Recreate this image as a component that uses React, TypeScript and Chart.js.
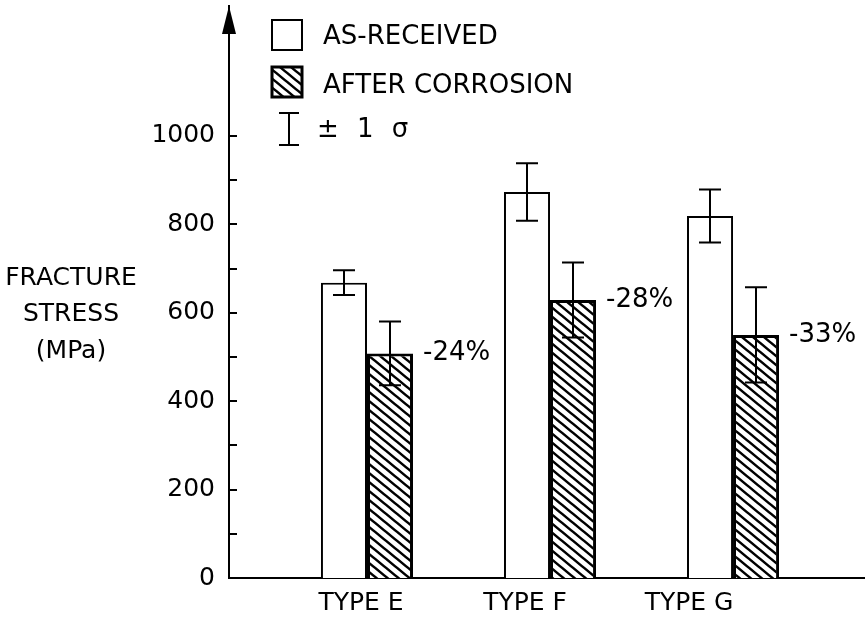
import React, { useEffect, useRef } from 'react';
import { Chart, registerables } from 'chart.js';

Chart.register(...registerables);

// ---- data ----
const categories = ['TYPE E', 'TYPE F', 'TYPE G'];
const seriesLabels = ['AS-RECEIVED', 'AFTER CORROSION'];
const asReceived = [668, 873, 819];
const afterCorrosion = [508, 629, 550];
const asReceivedSd = [28, 65, 60];
const afterCorrosionSd = [72, 85, 108];
const changeLabels = ['-24%', '-28%', '-33%'];
const yTickValues = [0, 100, 200, 300, 400, 500, 600, 700, 800, 900, 1000];
const yLabelledTicks = [0, 200, 400, 600, 800, 1000];
const sigmaLabel = '± 1 σ';
const yTitleLines = ['FRACTURE', 'STRESS', '(MPa)'];

const FAMILY = '"DejaVu Sans", sans-serif';
const FONT = `25px ${FAMILY}`;
const BIG_FONT = `26px ${FAMILY}`;

function makeHatch(): CanvasPattern | string {
  const c = document.createElement('canvas');
  const w = 11;
  const h = 9;
  c.width = w;
  c.height = h;
  const g = c.getContext('2d');
  if (!g) return '#888';
  g.fillStyle = '#fff';
  g.fillRect(0, 0, w, h);
  g.strokeStyle = '#000';
  g.lineWidth = 2.5;
  g.beginPath();
  for (const dx of [-w, 0, w]) {
    g.moveTo(dx - w * 0.5, -h * 0.5);
    g.lineTo(dx + w * 1.5, h * 1.5);
  }
  g.stroke();
  return g.createPattern(c, 'repeat') || '#888';
}

export default function App() {
  const ref = useRef<HTMLCanvasElement | null>(null);

  useEffect(() => {
    if (!ref.current) return;
    const hatch = makeHatch();
    const sds = [asReceivedSd, afterCorrosionSd];

    const overlay = {
      id: 'overlay',
      afterDraw(chart: any) {
        const ctx: any = chart.ctx;
        const area = chart.chartArea;
        const y = chart.scales.y;
        ctx.save();
        ctx.strokeStyle = '#000';
        ctx.fillStyle = '#000';

        // y axis arrow
        const ax = area.left;
        ctx.beginPath();
        ctx.moveTo(ax, area.top);
        ctx.lineTo(ax - 7, area.top + 28);
        ctx.lineTo(ax + 7, area.top + 28);
        ctx.closePath();
        ctx.fill();

        // inward tick marks
        ctx.lineWidth = 2;
        for (const v of yTickValues) {
          const py = Math.round(y.getPixelForValue(v));
          ctx.beginPath();
          ctx.moveTo(ax, py);
          ctx.lineTo(ax + 8, py);
          ctx.stroke();
        }

        // error bars
        chart.data.datasets.forEach((_: any, di: number) => {
          const meta = chart.getDatasetMeta(di);
          meta.data.forEach((bar: any, i: number) => {
            const val = (chart.data.datasets[di].data[i] as any).y;
            const sd = sds[di][i];
            const top = y.getPixelForValue(val + sd);
            const bot = y.getPixelForValue(val - sd);
            const bx = Math.round(bar.x);
            ctx.lineWidth = 2;
            ctx.beginPath();
            ctx.moveTo(bx, top);
            ctx.lineTo(bx, bot);
            ctx.moveTo(bx - 11, top);
            ctx.lineTo(bx + 11, top);
            ctx.moveTo(bx - 11, bot);
            ctx.lineTo(bx + 11, bot);
            ctx.stroke();
          });
        });

        // percentage change labels
        ctx.font = BIG_FONT;
        ctx.textAlign = 'left';
        ctx.textBaseline = 'middle';
        const meta1 = chart.getDatasetMeta(1);
        meta1.data.forEach((bar: any, i: number) => {
          ctx.fillText(changeLabels[i], bar.x + bar.width / 2 + 10, bar.y);
        });

        // y title
        ctx.font = FONT;
        ctx.textAlign = 'center';
        const titleY = [278, 314, 351];
        yTitleLines.forEach((t, i) => ctx.fillText(t, 71, titleY[i]));

        // legend
        const lx = 272;
        ctx.font = BIG_FONT;
        ctx.textAlign = 'left';
        ctx.lineWidth = 2;
        ctx.fillStyle = '#fff';
        ctx.fillRect(lx, 20, 30, 30);
        ctx.strokeRect(lx, 20, 30, 30);
        ctx.fillStyle = hatch;
        ctx.fillRect(lx, 67, 30, 30);
        ctx.lineWidth = 3;
        ctx.strokeRect(lx, 67, 30, 30);
        ctx.lineWidth = 2;
        const ex = 289;
        ctx.beginPath();
        ctx.moveTo(ex, 113);
        ctx.lineTo(ex, 145);
        ctx.moveTo(ex - 10, 113);
        ctx.lineTo(ex + 10, 113);
        ctx.moveTo(ex - 10, 145);
        ctx.lineTo(ex + 10, 145);
        ctx.stroke();
        ctx.fillStyle = '#000';
        ctx.fillText(chart.data.datasets[0].label, 323, 37);
        ctx.fillText(chart.data.datasets[1].label, 323, 86);
        ctx.wordSpacing = '10px';
        ctx.fillText(sigmaLabel, 317, 130);
        ctx.restore();
      },
    };

    const chart = new Chart(ref.current, {
      type: 'bar',
      data: {
        datasets: [
          {
            label: seriesLabels[0],
            data: asReceived.map((v, i) => ({ x: i + 1, y: v })),
            backgroundColor: '#fff',
            borderColor: '#000',
            borderWidth: 2,
            xAxisID: 'x',
          },
          {
            label: seriesLabels[1],
            data: afterCorrosion.map((v, i) => ({ x: i + 1, y: v })),
            backgroundColor: hatch as any,
            borderColor: '#000',
            borderWidth: 3,
            xAxisID: 'x',
          },
        ],
      },
      options: {
        animation: false,
        responsive: true,
        maintainAspectRatio: false,
        categoryPercentage: 0.503,
        barPercentage: 1,
        layout: { padding: { top: 6, left: 0, right: 0, bottom: 0 } },
        plugins: {
          legend: { display: false },
          tooltip: { enabled: false },
        },
        scales: {
          x: {
            type: 'linear',
            display: false,
            offset: false,
            grid: { offset: false },
            min: 0.246,
            max: 3.721,
            afterBuildTicks: (s: any) => {
              s.ticks = categories.map((_, i) => ({ value: i + 1 }));
            },
          },
          xLabel: {
            type: 'linear',
            position: 'bottom',
            offset: false,
            min: 0.195,
            max: 4.073,
            grid: { display: false, drawTicks: false, offset: false },
            border: { display: true, color: '#000', width: 2 },
            afterBuildTicks: (s: any) => {
              s.ticks = categories.map((_, i) => ({ value: i + 1 }));
            },
            afterFit: (s: any) => {
              s.height = 42;
              s.paddingLeft = 0;
              s.paddingRight = 0;
            },
            ticks: {
              autoSkip: false,
              maxRotation: 0,
              padding: 10,
              color: '#000',
              font: { family: FAMILY, size: 25 },
              callback: (_v: any, i: number) => categories[i],
            },
          },
          y: {
            type: 'linear',
            min: 0,
            max: 1294,
            grid: { display: false, drawTicks: false },
            border: { display: true, color: '#000', width: 2 },
            afterBuildTicks: (s: any) => {
              s.ticks = yTickValues.map((v) => ({ value: v }));
            },
            afterFit: (s: any) => {
              s.width = 229;
              s.paddingTop = 0;
              s.paddingBottom = 0;
            },
            ticks: {
              autoSkip: false,
              padding: 14,
              color: '#000',
              font: { family: FAMILY, size: 25 },
              callback: (v: any) => (yLabelledTicks.includes(v) ? String(v) : ''),
            },
          },
        },
      },
      plugins: [overlay],
    } as any);

    return () => chart.destroy();
  }, []);

  return (
    <div style={{ position: 'fixed', left: 0, top: 0, width: 865, height: 620, background: '#fff' }}>
      <canvas ref={ref} />
    </div>
  );
}
